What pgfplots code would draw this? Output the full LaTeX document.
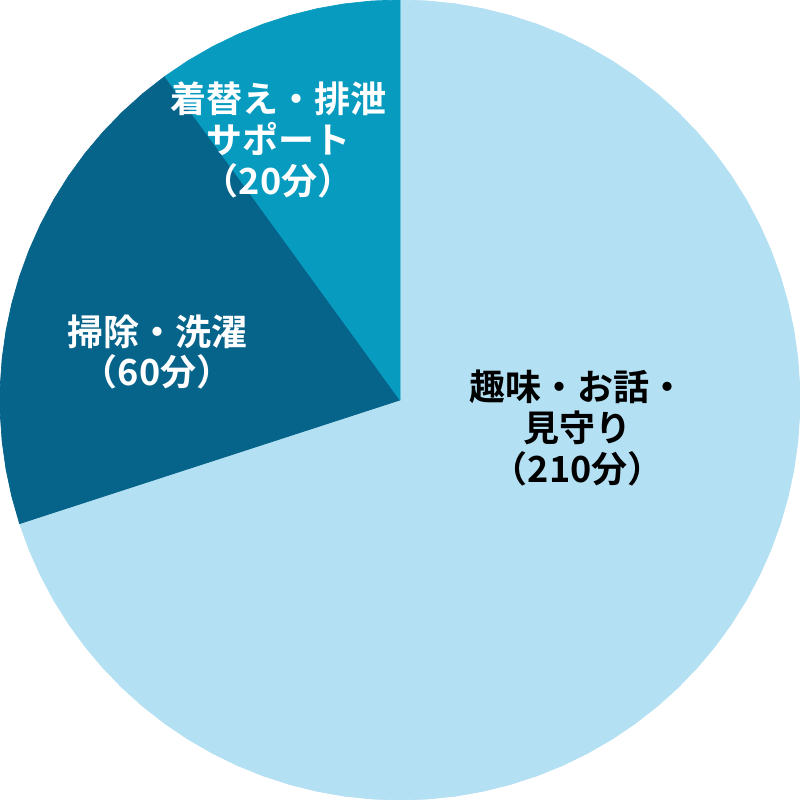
\documentclass[border=0pt]{standalone}
\usepackage{fontspec}
\setmainfont{Noto Sans CJK JP}[BoldFont={Noto Sans CJK JP Bold}]
\usepackage{pgfplots}
\usepgfplotslibrary{polar}
\pgfplotsset{compat=1.18}
\definecolor{light}{HTML}{B3E0F2}
\definecolor{deep}{HTML}{06638A}
\definecolor{mid}{HTML}{089BC0}
\tikzset{lbl/.style={font=\bfseries\fontsize{10.25}{11.6}\selectfont, align=center}}
\begin{document}
\begin{tikzpicture}
\begin{polaraxis}[
    name=pie,
    hide axis,
    scale only axis,
    width=8cm, height=8cm,
    ymin=0, ymax=1,
    clip=false]
% 趣味・お話・見守り: 70%
\addplot[fill=light, draw=light, line width=0.2pt] coordinates {
    (0,0) (90,1) (86,1) (82,1) (78,1) (74,1) (70,1) (66,1) (62,1) (58,1) (54,1)
    (50,1) (46,1) (42,1) (38,1) (34,1) (30,1) (26,1) (22,1) (18,1) (14,1)
    (10,1) (6,1) (2,1) (-2,1) (-6,1) (-10,1) (-14,1) (-18,1) (-22,1) (-26,1)
    (-30,1) (-34,1) (-38,1) (-42,1) (-46,1) (-50,1) (-54,1) (-58,1) (-62,1)
    (-66,1) (-70,1) (-74,1) (-78,1) (-82,1) (-86,1) (-90,1) (-94,1) (-98,1)
    (-102,1) (-106,1) (-110,1) (-114,1) (-118,1) (-122,1) (-126,1) (-130,1)
    (-134,1) (-138,1) (-142,1) (-146,1) (-150,1) (-154,1) (-158,1) (-162,1) (0,0)
};
% 掃除・洗濯: 20%
\addplot[fill=deep, draw=deep, line width=0.2pt] coordinates {
    (0,0) (198,1) (194,1) (190,1) (186,1) (182,1) (178,1) (174,1) (170,1)
    (166,1) (162,1) (158,1) (154,1) (150,1) (146,1) (142,1) (138,1) (134,1)
    (130,1) (126,1) (0,0)
};
% 着替え・排泄サポート: 10%
\addplot[fill=mid, draw=mid, line width=0.2pt] coordinates {
    (0,0) (126,1) (122,1) (118,1) (114,1) (110,1) (106,1) (102,1) (98,1)
    (94,1) (90,1) (0,0)
};
\node[lbl, text=black] at (axis cs:-8.9,0.45) {趣味・お話・\\見守り\\（210分）};
\node[lbl, text=white] at (axis cs:168.8,0.619) {掃除・洗濯\\（60分）};
\node[lbl, text=white] at (axis cs:115.1,0.718) {着替え・排泄\\サポート\\（20分）};
\end{polaraxis}
\pgfresetboundingbox
\path (pie.south west) rectangle (pie.north east);
\end{tikzpicture}
\end{document}
